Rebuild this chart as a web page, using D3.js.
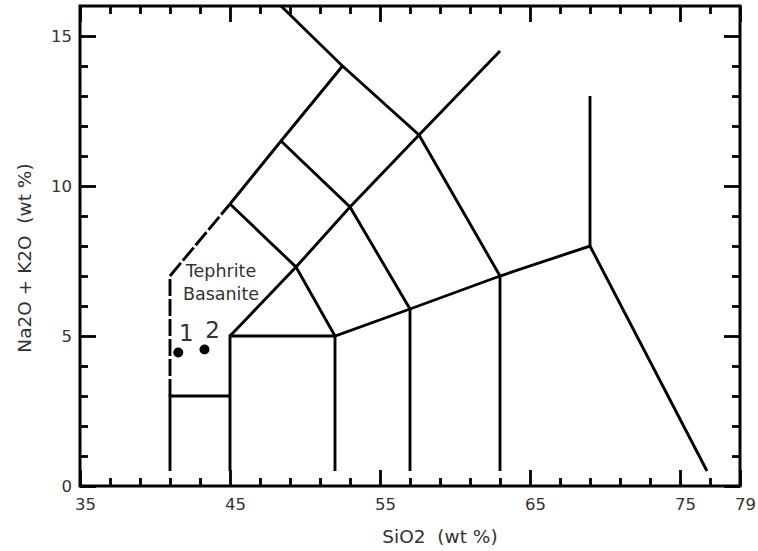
<!DOCTYPE html>
<html>
<head>
<meta charset="utf-8">
<script src="https://cdn.jsdelivr.net/npm/d3@7"></script>
<style>
  body{margin:0;background:#fff;}
  text{font-family:"DejaVu Sans",Verdana,sans-serif;fill:#333;}
</style>
</head>
<body>
<div id="chart"></div>
<script>
// --- data (TAS diagram, Le Bas et al.) ---
var xMajor = [35,45,55,65,75,79];
var xMinor = [37,39,41,43,47,49,51,53,57,59,61,63,67,69,71,73,77];
var yMajor = [0,5,10,15];
var yMinor = [1,2,3,4,6,7,8,9,11,12,13,14];

// field boundaries, [SiO2, Na2O+K2O]
var solidLines = [
  [[41,0.5],[41,3],[45,3]],
  [[45,0.5],[45,5],[52,5],[57,5.9],[63,7],[69,8],[76.8,0.5]],
  [[52,0.5],[52,5]],
  [[57,0.5],[57,5.9]],
  [[63,0.5],[63,7]],
  [[69,8],[69,13]],
  [[45,5],[49.4,7.3],[53,9.3],[57.6,11.7],[63,14.5]],
  [[52,5],[49.4,7.3],[45,9.4]],
  [[57,5.9],[53,9.3],[48.4,11.5]],
  [[63,7],[57.6,11.7],[52.5,14]],
  [[45,9.4],[48.4,11.5],[52.5,14],[48.4,16]]
];
var dashedLines = [
  [[41,3],[41,7],[45,9.4]]
];

var samples = [
  {id:'1', sio2:41.55, alk:4.45},
  {id:'2', sio2:43.3, alk:4.55}
];

var fieldLabel = {lines:['Tephrite','Basanite'], sio2:44.4, alk:6.97};

// --- setup ---
var W = 758, H = 551;
var pLeft = 80, pRight = 740, pTop = 6, pBottom = 486;

var svg = d3.select('#chart').append('svg')
    .attr('width',W)
    .attr('height',H);

var x = d3.scaleLinear().domain([35,79]).range([pLeft,pRight]);
var y = d3.scaleLinear().domain([0,16]).range([pBottom,pTop]);

// ticks point inward
function ticks(axis, vals, size, labels){
  return axis.tickValues(vals).tickSize(-size).tickSizeOuter(0)
    .tickFormat(labels ? d3.format('d') : '');
}

var gB = svg.append('g').attr('transform','translate(0,'+pBottom+')');
gB.call(ticks(d3.axisBottom(x), xMinor, 8, false));
var gB2 = svg.append('g').attr('transform','translate(0,'+pBottom+')');
gB2.call(ticks(d3.axisBottom(x), xMajor, 16, true).tickPadding(12));
gB2.selectAll('text').attr('dx',5).style('font-size','16.5px');

var gT = svg.append('g').attr('transform','translate(0,'+pTop+')');
gT.call(ticks(d3.axisTop(x), xMinor, 8, false));
var gT2 = svg.append('g').attr('transform','translate(0,'+pTop+')');
gT2.call(ticks(d3.axisTop(x), xMajor, 16, false));

var gL = svg.append('g').attr('transform','translate('+pLeft+',0)');
gL.call(ticks(d3.axisLeft(y), yMinor, 8, false));
var gL2 = svg.append('g').attr('transform','translate('+pLeft+',0)');
gL2.call(ticks(d3.axisLeft(y), yMajor, 16, true).tickPadding(8));
gL2.selectAll('text').style('font-size','16.5px');

var gR = svg.append('g').attr('transform','translate('+pRight+',0)');
gR.call(ticks(d3.axisRight(y), yMinor, 8, false));
var gR2 = svg.append('g').attr('transform','translate('+pRight+',0)');
gR2.call(ticks(d3.axisRight(y), yMajor, 16, false));

svg.selectAll('.domain').remove();
svg.selectAll('.tick line').attr('stroke','#000').attr('stroke-width',2.8);

// frame
svg.append('rect')
    .attr('x',pLeft).attr('y',pTop)
    .attr('width',pRight-pLeft).attr('height',pBottom-pTop)
    .attr('fill','none').attr('stroke','#000').attr('stroke-width',3);

// boundaries
var line = d3.line()
    .x(function(d){return x(d[0])})
    .y(function(d){return y(d[1])});

svg.selectAll('.field')
    .data(solidLines)
    .enter()
    .append('path')
    .attr('class','field')
    .attr('d',line)
    .attr('fill','none')
    .attr('stroke','#000')
    .attr('stroke-width',2.9);

svg.selectAll('.field-dash')
    .data(dashedLines)
    .enter()
    .append('path')
    .attr('class','field-dash')
    .attr('d',line)
    .attr('fill','none')
    .attr('stroke','#000')
    .attr('stroke-width',2.9)
    .attr('stroke-dasharray','17,3');

// field name
svg.append('text')
    .attr('text-anchor','middle')
    .style('font-size','17.5px')
    .selectAll('tspan')
    .data(fieldLabel.lines)
    .enter()
    .append('tspan')
    .attr('x',x(fieldLabel.sio2))
    .attr('y',function(d,i){return y(fieldLabel.alk)+i*23})
    .text(function(d){return d});

// samples
svg.selectAll('.sample')
    .data(samples)
    .enter()
    .append('circle')
    .attr('class','sample')
    .attr('cx',function(d){return x(d.sio2)})
    .attr('cy',function(d){return y(d.alk)})
    .attr('r',5)
    .attr('fill','#000');

svg.selectAll('.sample-label')
    .data(samples)
    .enter()
    .append('text')
    .attr('class','sample-label')
    .attr('text-anchor','middle')
    .attr('x',function(d){return x(d.sio2)+8})
    .attr('y',function(d){return y(d.alk)-12})
    .style('font-size','23px')
    .text(function(d){return d.id});

// axis titles
svg.append('text')
    .attr('x',440).attr('y',543)
    .attr('text-anchor','middle')
    .style('font-size','18.5px')
    .style('white-space','pre')
    .text('SiO2  (wt %)');

svg.append('text')
    .attr('transform','translate(31,258) rotate(-90)')
    .attr('text-anchor','middle')
    .style('font-size','18.5px')
    .style('white-space','pre')
    .text('Na2O + K2O  (wt %)');
</script>
</body>
</html>
